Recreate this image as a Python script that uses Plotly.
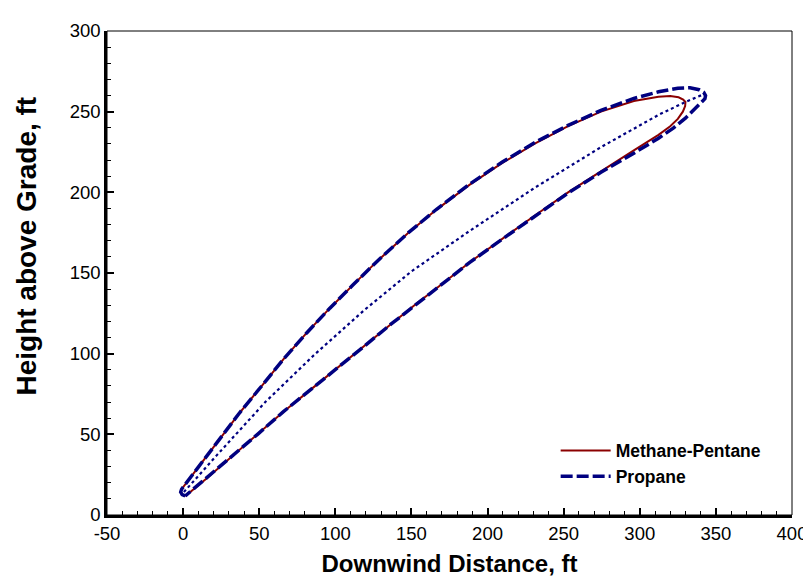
import plotly.graph_objects as go

# Propane plume envelope (closed contour: upper edge out to tip, lower edge back)
propane_x = [1.4, -0.6, -1.6, -1.0, 10.0, 24.0, 37.0, 52.1, 66.1, 81.3, 96.4, 111.5, 127.7,
             148.0, 166.5, 188.1, 209.7, 231.3, 252.9, 274.5, 296.1, 312.3, 325.0, 333.0,
             339.0, 342.0, 343.2, 342.8, 340.5, 336.0, 330.0, 322.0, 312.3, 296.1, 274.5,
             252.9, 231.3, 209.7, 188.1, 166.5, 153.6, 136.3, 117.9, 100.7, 83.4, 66.1,
             48.9, 32.7, 15.4, 5.5, 1.4]
propane_y = [11.8, 12.6, 14.2, 16.0, 29.7, 47.0, 63.2, 80.5, 96.8, 113.0, 128.2, 142.5, 157.5,
             175.0, 189.5, 205.0, 218.8, 231.0, 241.5, 250.8, 258.2, 262.3, 264.5, 264.8,
             263.6, 262.0, 260.0, 258.0, 255.8, 251.3, 246.0, 239.8, 233.5, 224.3, 212.4,
             199.6, 185.6, 171.0, 156.4, 140.6, 131.3, 118.1, 103.8, 90.7, 77.4, 64.2,
             50.0, 36.8, 22.6, 14.9, 11.8]

# Methane-Pentane plume envelope
methane_x = [1.4, -0.6, -1.6, -1.0, 10.0, 24.0, 37.0, 52.1, 66.1, 81.3, 96.4, 111.5, 127.7,
             148.0, 166.5, 188.1, 209.7, 231.3, 252.9, 274.5, 296.1, 312.3, 320.0, 325.5,
             328.5, 330.0, 329.8, 328.3, 325.0, 320.0, 312.3, 296.1, 274.5, 252.9, 231.3,
             209.7, 188.1, 166.5, 153.6, 136.3, 117.9, 100.7, 83.4, 66.1, 48.9, 32.7, 15.4,
             5.5, 1.4]
methane_y = [11.8, 12.6, 14.2, 16.0, 29.7, 47.0, 63.2, 80.5, 96.8, 113.0, 128.2, 142.5, 157.5,
             175.0, 189.3, 204.6, 218.2, 230.4, 241.0, 250.0, 256.6, 259.2, 259.7, 258.9,
             257.5, 256.0, 253.5, 250.0, 245.5, 241.0, 235.6, 226.0, 213.0, 200.0, 185.8,
             171.1, 156.5, 140.6, 131.3, 118.1, 103.8, 90.7, 77.4, 64.2, 50.0, 36.8, 22.6,
             14.9, 11.8]

# Plume centreline
center_x = [0.5, 21.9, 54.3, 86.7, 119.0, 150.0, 188.1, 231.3, 274.5, 312.3, 330.0, 342.5]
center_y = [14.2, 36.8, 70.3, 99.8, 127.0, 151.0, 176.0, 203.0, 228.0, 248.0, 256.0, 261.0]

x_ticks = [-50, 0, 50, 100, 150, 200, 250, 300, 350, 400]
y_ticks = [0, 50, 100, 150, 200, 250, 300]

RED = "#8b0000"
BLUE = "#000080"
FONT = "Arial, 'Liberation Sans', sans-serif"

fig = go.Figure()
fig.add_trace(go.Scatter(x=methane_x, y=methane_y, mode="lines", name="<b>Methane-Pentane</b>",
                         line=dict(color=RED, width=2)))
fig.add_trace(go.Scatter(x=propane_x, y=propane_y, mode="lines", name="<b>Propane</b>",
                         line=dict(color=BLUE, width=3.5, dash="12px,4px")))
fig.add_trace(go.Scatter(x=center_x, y=center_y, mode="lines", showlegend=False,
                         line=dict(color=BLUE, width=2.2, dash="3px,3px")))

axis_common = dict(
    showgrid=False, zeroline=False, showline=True, linecolor="black", linewidth=2.5,
    ticks="inside", ticklen=7, tickwidth=1.5, tickcolor="black",
    tickfont=dict(family=FONT, size=18.5, color="black"),
    minor=dict(ticks="inside", ticklen=4, tickwidth=1, tickcolor="black", dtick=10),
)

fig.update_xaxes(range=[-50, 400], tickvals=x_ticks, ticktext=[str(v) for v in x_ticks],
                 title=dict(text="<b>Downwind Distance, ft</b>",
                            font=dict(family=FONT, size=24, color="black"), standoff=13),
                 **axis_common)
fig.update_yaxes(range=[0, 300], tickvals=y_ticks, ticktext=[str(v) for v in y_ticks],
                 **axis_common)

fig.update_layout(
    width=811, height=579,
    margin=dict(l=99, r=17, t=15, b=72),
    paper_bgcolor="white", plot_bgcolor="white",
    showlegend=True,
    legend=dict(x=0.963, y=0.17, xanchor="right", yanchor="top",
                bgcolor="rgba(0,0,0,0)", borderwidth=0, itemwidth=50,
                font=dict(family=FONT, size=17.5, color="black"),
                tracegroupgap=0),
    shapes=[dict(type="rect", xref="paper", yref="paper", x0=0, y0=0, x1=1, y1=1,
                 line=dict(color="black", width=1), layer="above")],
    annotations=[dict(text="<b>Height above Grade, ft</b>", textangle=-90,
                      xref="paper", yref="paper", x=-0.118, y=0.555,
                      xanchor="center", yanchor="middle", showarrow=False,
                      font=dict(family=FONT, size=28, color="black"))],
)

fig.write_html("out.html")
